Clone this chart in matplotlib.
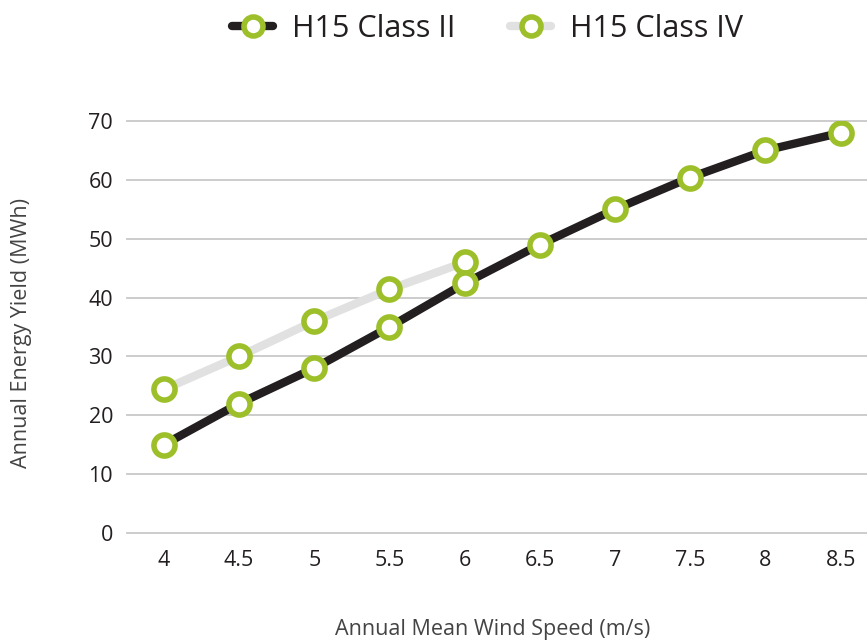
import matplotlib.pyplot as plt
import numpy as np

# data
speeds = ["4", "4.5", "5", "5.5", "6", "6.5", "7", "7.5", "8", "8.5"]
class2 = [15, 22, 28, 35, 42.4, 49, 55, 60.4, 65, 68]
class4 = [24.4, 30, 36, 41.4, 46]
yticks = [0, 10, 20, 30, 40, 50, 60, 70]

plt.rcParams['font.family'] = ['Open Sans', 'DejaVu Sans']

text_col = '#231f20'
green = '#9dbf2a'

fig = plt.figure(figsize=(8.67, 6.41), dpi=100)
# axes placed so 0 sits at y=533px and 70 at y=121px
ax = fig.add_axes([127 / 867, (641 - 533) / 641, 1 - 127 / 867, (533 - 121) / 641])

x = np.arange(len(speeds))
mk = dict(marker='o', markersize=15.2, markerfacecolor='white',
          markeredgecolor=green, markeredgewidth=4.0)
ax.plot(x[:len(class4)], class4, color='#e1e1e1', lw=6, solid_capstyle='round',
        label='H15 Class IV', zorder=3, **mk)
ax.plot(x, class2, color=text_col, lw=6, solid_capstyle='round',
        label='H15 Class II', zorder=4, **mk)

ax.set_xlim(-0.49, 9.35)
ax.set_ylim(0, 70)
ax.set_xticks(x)
ax.set_xticklabels(speeds)
ax.set_yticks(yticks)
ax.grid(axis='y', color='#c8c8c8', lw=1.3, zorder=0)
for ln in ax.get_ygridlines():
    ln.set_clip_on(False)
ax.set_axisbelow(True)
for s in ax.spines.values():
    s.set_visible(False)
ax.tick_params(length=0, labelsize=15.5, labelcolor=text_col, pad=12)
ax.tick_params(axis='y', pad=10)

fig.text(493 / 867, 1 - 630 / 641, 'Annual Mean Wind Speed (m/s)', ha='center',
         va='center', fontsize=15.5, color='#444444')
fig.text(22 / 867, 1 - 333 / 641, 'Annual Energy Yield (MWh)', ha='center',
         va='center', rotation=90, fontsize=15.5, color='#444444')

h, l = ax.get_legend_handles_labels()
fig.legend(h[::-1], l[::-1], loc='center', bbox_to_anchor=(0.562, 1 - 29 / 641),
           ncol=2, frameon=False, fontsize=22, handlelength=1.35,
           handletextpad=0.6, columnspacing=1.8, labelcolor=text_col,
           markerscale=0.9)

fig.savefig('out.png', dpi=100)
